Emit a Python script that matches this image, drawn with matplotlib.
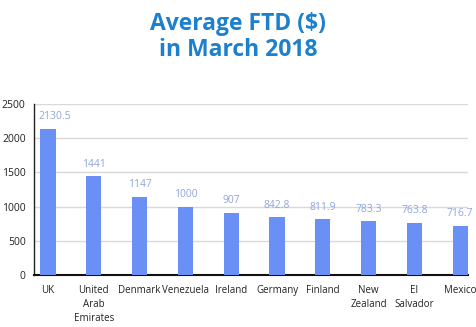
import matplotlib
matplotlib.use("Agg")
import matplotlib.pyplot as plt

categories = ["UK", "United\nArab\nEmirates", "Denmark", "Venezuela", "Ireland",
              "Germany", "Finland", "New\nZealand", "El\nSalvador", "Mexico"]
values = [2130.5, 1441, 1147, 1000, 907, 842.8, 811.9, 783.3, 763.8, 716.7]
value_labels = ["2130.5", "1441", "1147", "1000", "907", "842.8", "811.9", "783.3", "763.8", "716.7"]
yticks = [0, 500, 1000, 1500, 2000, 2500]

plt.rcParams['font.family'] = ['Open Sans', 'DejaVu Sans']

fig = plt.figure(figsize=(4.77, 3.27), dpi=100)
W, H = 477, 327
left, right, top, bottom = 34, 468, 104, 275
ax = fig.add_axes([left / W, 1 - bottom / H, (right - left) / W, (bottom - top) / H])

x = list(range(len(categories)))
ax.bar(x, values, width=0.33, color="#6a8ff5", zorder=3)
for xi, v, lab in zip(x, values, value_labels):
    dx = 5 if xi == 0 else 0
    ax.annotate(lab, (xi, v + 100), xytext=(dx, 0), textcoords="offset points",
                ha="center", va="bottom", fontsize=7.5, color="#8fa6dc", zorder=4)

ax.set_xlim(-0.306, 9.17)
ax.set_ylim(0, 2500)
ax.set_yticks(yticks)
ax.set_yticklabels([str(t) for t in yticks], fontsize=7.5, color="#222222")
ax.set_xticks(x)
ax.set_xticklabels(categories, fontsize=7, color="#222222", linespacing=1.4)
ax.tick_params(axis="y", length=0, pad=6)
ax.tick_params(axis="x", length=0, pad=7)
ax.yaxis.grid(True, color="#d9d9d9", linewidth=1, zorder=0)
for s in ["top", "right"]:
    ax.spines[s].set_visible(False)
ax.spines["left"].set_color("#222222")
ax.spines["left"].set_linewidth(1.0)
ax.spines["bottom"].set_color("#111111")
ax.spines["bottom"].set_linewidth(1.5)

fig.text(238 / W, 1 - 37 / H, "Average FTD ($)\nin March 2018", ha="center", va="center",
         fontsize=16.5, fontweight="bold", color="#1c80cc", linespacing=1.15)

fig.savefig("out.png", dpi=100)
